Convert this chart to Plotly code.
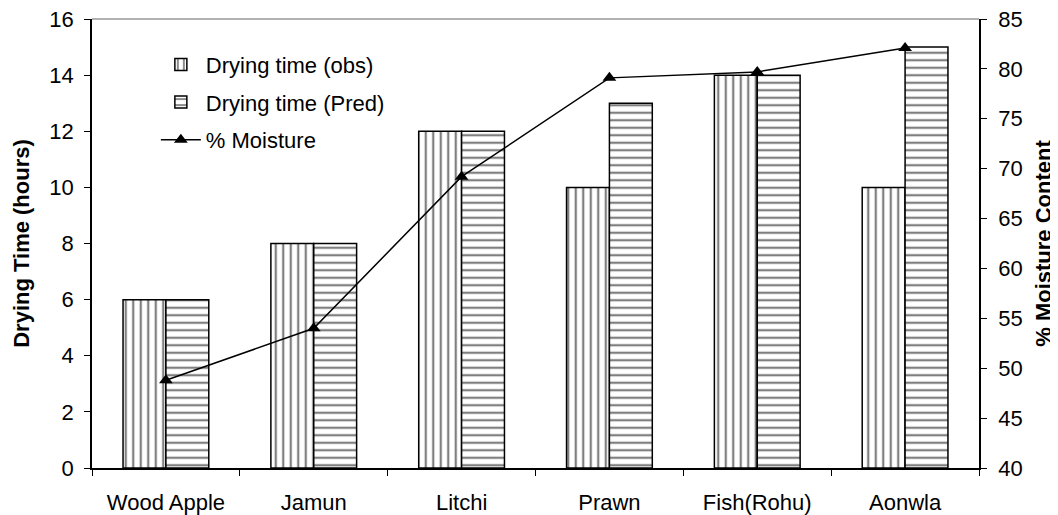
import plotly.graph_objects as go

categories = ["Wood Apple", "Jamun", "Litchi", "Prawn", "Fish(Rohu)", "Aonwla"]
drying_obs = [6, 8, 12, 10, 14, 10]
drying_pred = [6, 8, 12, 13, 14, 15]
moisture = [48.8, 54.0, 69.2, 79.1, 79.7, 82.1]

FONT = "Liberation Sans, Arial, sans-serif"
FS = 22

fig = go.Figure()
fig.add_trace(go.Bar(
    x=categories, y=drying_obs, name="Drying time (obs)", legendgroup="a",
    marker=dict(color="white", line=dict(color="black", width=1.5),
                pattern=dict(shape="|", fgcolor="black", bgcolor="white", size=7.5, solidity=0.3)),
))
fig.add_trace(go.Bar(
    x=categories, y=drying_pred, name="Drying time (Pred)", legendgroup="b",
    marker=dict(color="white", line=dict(color="black", width=1.5),
                pattern=dict(shape="-", fgcolor="black", bgcolor="white", size=7.5, solidity=0.3)),
))
fig.add_trace(go.Scatter(
    x=categories, y=moisture, name="% Moisture", yaxis="y2", legendgroup="c",
    mode="lines+markers",
    line=dict(color="black", width=1.5),
    marker=dict(symbol="triangle-up", color="black", size=12),
))

fig.update_layout(
    width=1058, height=515,
    margin=dict(l=84, r=87, t=11, b=55),
    paper_bgcolor="white", plot_bgcolor="white",
    font=dict(family=FONT, size=FS, color="black"),
    barmode="group", bargap=0.42, bargroupgap=0,
    showlegend=True,
    legend=dict(x=0.072, y=0.945, xanchor="left", yanchor="top",
                bgcolor="rgba(0,0,0,0)", font=dict(family=FONT, size=FS),
                tracegroupgap=6, itemwidth=40),
    xaxis=dict(
        showline=True, linecolor="black", linewidth=1.5,
        ticks="outside", ticklen=6, tickcolor="black", tickson="boundaries",
        showgrid=False, tickfont=dict(size=FS), ticklabelstandoff=14,
        automargin=False, ticklabeloverflow="allow",
    ),
    yaxis=dict(
        title=dict(text="<b>Drying Time (hours)</b>", font=dict(size=FS), standoff=14),
        range=[0, 16], dtick=2,
        showline=True, linecolor="black", linewidth=1.5,
        ticks="outside", ticklen=6, tickcolor="black",
        showgrid=False, zeroline=False, tickfont=dict(size=FS), ticklabelstandoff=6,
        automargin=False, ticklabeloverflow="allow",
    ),
    yaxis2=dict(
        title=dict(text="<b>% Moisture Content</b>", font=dict(size=FS), standoff=14),
        range=[40, 85], dtick=5, overlaying="y", side="right",
        showline=True, linecolor="black", linewidth=1.5,
        ticks="outside", ticklen=6, tickcolor="black",
        showgrid=False, zeroline=False, tickfont=dict(size=FS), ticklabelstandoff=7,
        automargin=False, ticklabeloverflow="allow",
    ),
    shapes=[dict(type="line", xref="paper", yref="paper", x0=0, x1=1, y0=1, y1=1,
                 line=dict(color="#999999", width=1.5))],
)

fig.write_html("out.html")
